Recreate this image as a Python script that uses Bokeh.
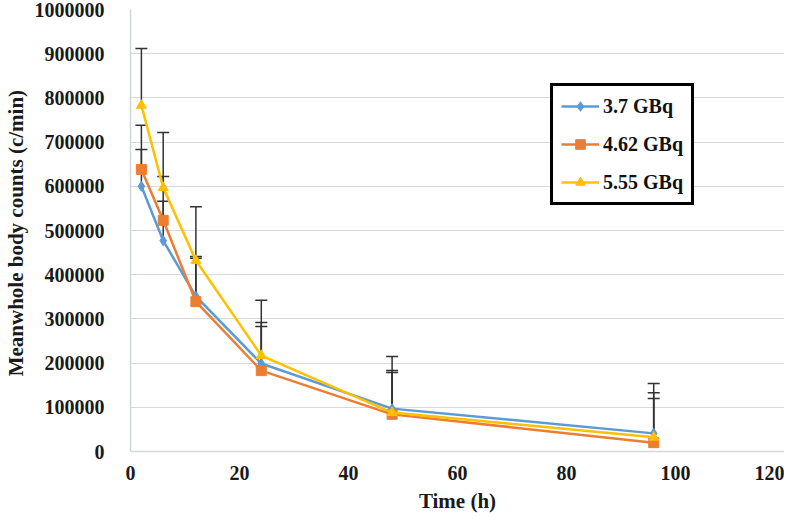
from bokeh.plotting import figure
from bokeh.models import ColumnDataSource, Whisker, Range1d, FixedTicker, BasicTickFormatter, Legend, LegendItem
from bokeh.embed import file_html
from bokeh.resources import INLINE

time_h = [2, 6, 12, 24, 48, 96]
labels = ["3.7 GBq", "4.62 GBq", "5.55 GBq"]
blue_vals = [600000, 477000, 351000, 199000, 97000, 41000]
orange_vals = [638000, 523000, 339000, 183000, 84000, 20000]
yellow_vals = [783000, 597000, 432000, 217000, 88000, 32000]
blue_err = [83000, 89000, 90000, 93000, 82000, 92000]
orange_err = [100000, 99000, 98000, 100000, 99000, 100000]
yellow_err = [129000, 125000, 122000, 125000, 127000, 122000]
x_ticks = [0, 20, 40, 60, 80, 100, 120]
y_ticks = [0, 100000, 200000, 300000, 400000, 500000, 600000, 700000, 800000, 900000, 1000000]
x_title = "Time (h)"
y_title = "Meanwhole  body counts (c/min)"

colors = ["#5B9BD5", "#ED7D31", "#FFC000"]
markers = ["diamond", "square", "triangle"]
series = [blue_vals, orange_vals, yellow_vals]
errs = [blue_err, orange_err, yellow_err]

FONT = "Liberation Serif"

p = figure(width=784, height=515, output_backend="svg", toolbar_location=None,
           x_range=Range1d(0, 120), y_range=Range1d(0, 1000000),
           min_border_left=120, min_border_right=0, min_border_top=9, min_border_bottom=60)
p.outline_line_color = None
p.background_fill_color = "white"

# error bars (plus direction)
for vals, err in zip(series, errs):
    src = ColumnDataSource(dict(x=time_h, lo=vals, up=[v + e for v, e in zip(vals, err)]))
    w = Whisker(base="x", lower="lo", upper="up", source=src, dimension="height",
                line_color="#333333", line_width=1.5, lower_head=None)
    w.upper_head.line_color = "#333333"
    w.upper_head.line_width = 1.5
    w.upper_head.size = 12
    p.add_layout(w)

items = []
for vals, col, mk, lab in zip(series, colors, markers, labels):
    src = ColumnDataSource(dict(x=time_h, y=vals))
    l = p.line("x", "y", source=src, line_color=col, line_width=2.5)
    s = p.scatter("x", "y", source=src, marker=mk, size=10, fill_color=col, line_color=col)
    items.append(LegendItem(label=lab, renderers=[l, s]))

legend = Legend(items=items, location=(420, 246))
legend.border_line_color = "black"
legend.border_line_alpha = 1.0
legend.border_line_width = 3
legend.padding = 8
legend.spacing = 14
legend.label_height = 24
legend.glyph_height = 24
legend.glyph_width = 38
legend.label_standoff = 4
legend.label_text_font = FONT
legend.label_text_font_style = "bold"
legend.label_text_font_size = "20px"
legend.label_text_color = "#111111"
legend.background_fill_alpha = 1
p.add_layout(legend, "center")

p.xaxis.ticker = FixedTicker(ticks=x_ticks)
p.yaxis.ticker = FixedTicker(ticks=y_ticks)
p.yaxis.formatter = BasicTickFormatter(use_scientific=False)

for ax in (p.xaxis[0], p.yaxis[0]):
    ax.axis_line_color = "#D0D7DE"
    ax.axis_line_width = 1.5
    ax.major_tick_line_color = None
    ax.minor_tick_line_color = None
    ax.major_label_text_font = FONT
    ax.major_label_text_font_style = "bold"
    ax.major_label_text_font_size = "20px"
    ax.major_label_text_color = "#1a1a1a"
    ax.axis_label_text_font = FONT
    ax.axis_label_text_font_style = "bold"
    ax.axis_label_text_font_size = "21px"
    ax.axis_label_text_color = "#1a1a1a"

p.xaxis.axis_label = x_title
p.yaxis.axis_label = y_title
p.yaxis.major_label_standoff = 20
p.xaxis.major_label_standoff = 8
p.xaxis.axis_label_standoff = 6
p.yaxis.axis_label_standoff = 4

p.xgrid.grid_line_color = None
p.ygrid.grid_line_color = "#D9D9D9"
p.ygrid.grid_line_width = 1

open("out.html", "w").write(file_html(p, INLINE))
